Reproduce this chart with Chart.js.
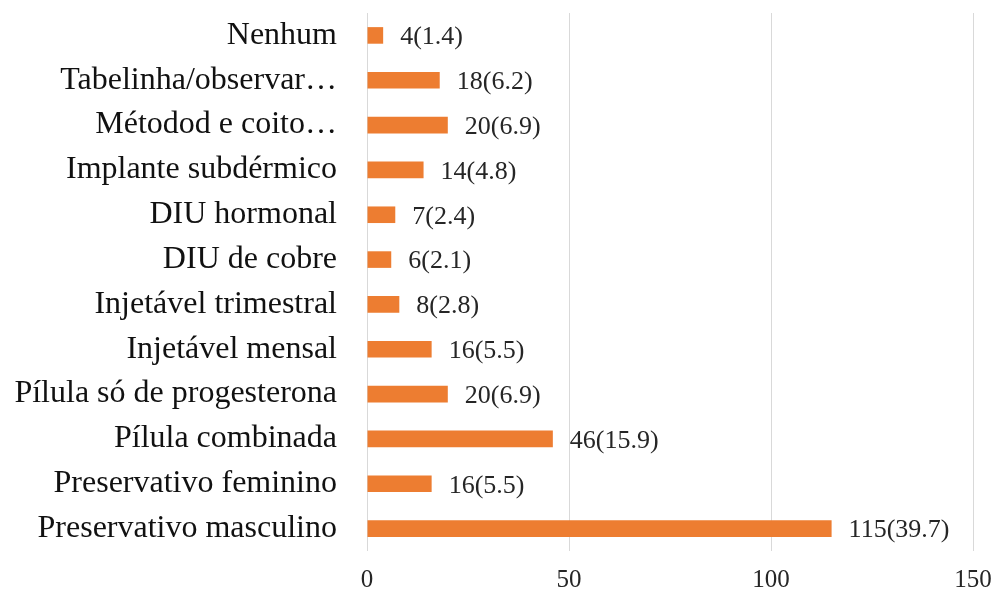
<!DOCTYPE html>
<html>
<head>
<meta charset="utf-8">
<script src="https://cdn.jsdelivr.net/npm/chart.js@4"></script>
<style>
  html, body { margin: 0; padding: 0; background: #ffffff; }
  #wrap { width: 1000px; height: 594px; }
</style>
</head>
<body>
<div id="wrap"><canvas id="chart" width="1000" height="594"></canvas></div>
<script>
const categories = [
  'Nenhum',
  'Tabelinha/observar…',
  'Métodod e coito…',
  'Implante subdérmico',
  'DIU hormonal',
  'DIU de cobre',
  'Injetável trimestral',
  'Injetável mensal',
  'Pílula só de progesterona',
  'Pílula combinada',
  'Preservativo feminino',
  'Preservativo masculino',
];
const counts = [4, 18, 20, 14, 7, 6, 8, 16, 20, 46, 16, 115];
const percents = ['1.4', '6.2', '6.9', '4.8', '2.4', '2.1', '2.8', '5.5', '6.9', '15.9', '5.5', '39.7'];
const xTicks = [0, 50, 100, 150];

const serif = '"Liberation Serif", "Times New Roman", serif';

const barLabels = {
  id: 'barLabels',
  afterDatasetsDraw: (chart) => {
    const ctx = chart.ctx;
    const meta = chart.getDatasetMeta(0);
    ctx.save();
    ctx.font = '26px ' + serif;
    ctx.fillStyle = '#262626';
    ctx.textAlign = 'left';
    ctx.textBaseline = 'middle';
    meta.data.forEach((bar, i) => {
      ctx.fillText(counts[i] + '(' + percents[i] + ')', bar.x + 17, bar.y + 2);
    });
    ctx.restore();
  },
};

new Chart(document.querySelector('#chart'), {
  type: 'bar',
  data: {
    labels: categories,
    datasets: [
      {
        data: counts,
        backgroundColor: '#ED7D31',
        borderWidth: 0,
        categoryPercentage: 1,
        barPercentage: 0.37,
      },
    ],
  },
  options: {
    indexAxis: 'y',
    responsive: false,
    animation: false,
    layout: {
      padding: { top: 13, right: 27, bottom: 0, left: 0 },
    },
    plugins: {
      legend: { display: false },
      tooltip: { enabled: false },
    },
    scales: {
      x: {
        min: 0,
        max: 150,
        afterBuildTicks: (scale) => {
          scale.ticks = xTicks.map((v) => ({ value: v }));
        },
        afterFit: (scale) => {
          scale.height = 43;
          scale.paddingLeft = 0;
          scale.paddingRight = 0;
        },
        grid: { color: '#d9d9d9', lineWidth: 1, drawTicks: false },
        border: { display: false },
        ticks: {
          padding: 14,
          color: '#262626',
          font: { family: serif, size: 25 },
        },
      },
      y: {
        afterFit: (scale) => {
          scale.width = 367;
          scale.paddingTop = 0;
          scale.paddingBottom = 0;
        },
        grid: { display: false, drawTicks: false },
        border: { display: false },
        ticks: {
          padding: 30,
          color: '#111111',
          font: { family: serif, size: 32 },
        },
      },
    },
  },
  plugins: [barLabels],
});
</script>
</body>
</html>
